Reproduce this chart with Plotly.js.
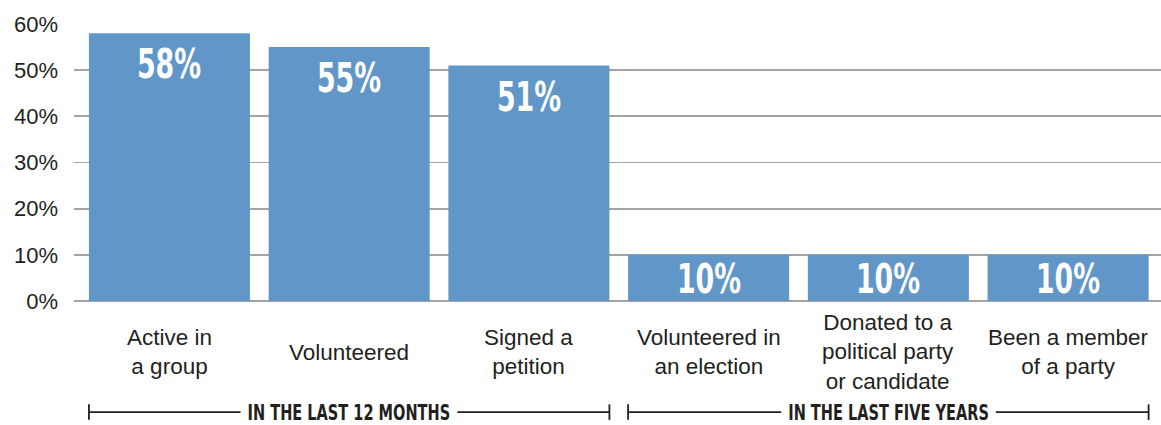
<!DOCTYPE html>
<html>
<head>
<meta charset="utf-8">
<script src="https://cdn.plot.ly/plotly-3.0.1.min.js"></script>
<style>html,body{margin:0;padding:0;background:#fff;}#chart{width:1161px;height:425px;}</style>
</head>
<body>
<div id="chart"></div>
<script>
const categories = ["Active in<br>a group", "Volunteered", "Signed a<br>petition", "Volunteered in<br>an election", "Donated to a<br>political party<br>or candidate", "Been a member<br>of a party"];
const values = [58, 55, 51, 10, 10, 10];
const valueLabels = ["58%", "55%", "51%", "10%", "10%", "10%"];
const tickValues = [0, 10, 20, 30, 40, 50, 60];
const tickLabels = ["0%", "10%", "20%", "30%", "40%", "50%", "60%"];
const groups = [
  {label: "IN THE LAST 12 MONTHS", first: 0, last: 2},
  {label: "IN THE LAST FIVE YEARS", first: 3, last: 5}
];

const idx = categories.map((_, i) => i);
const barGap = 0.104;
const half = (1 - barGap) / 2;
const textColor = "#231f20";
const condensed = "'DejaVu Sans Condensed', 'Liberation Sans Narrow', sans-serif";
const plain = "'Liberation Sans', Arial, sans-serif";

const annotations = [];
const squeeze = []; // [annotation index, horizontal scale]
values.forEach((v, i) => {
  const short = v < 20;
  squeeze.push([annotations.length, 0.745]);
  annotations.push({x: i, y: short ? v / 2 : v, xref: "x", yref: "y", text: valueLabels[i], showarrow: false,
    yanchor: "middle", yshift: short ? -1 : -31,
    font: {family: condensed, size: 40, color: "#ffffff", weight: "bold"}});
  annotations.push({x: i, y: -0.185, xref: "x", yref: "paper", text: categories[i], showarrow: false,
    yanchor: "middle", align: "center",
    font: {family: plain, size: 22.5, color: textColor}});
});
const shapes = [];
groups.forEach(g => {
  const x0 = g.first - half, x1 = g.last + half;
  const yL = -0.401;
  const ln = {color: textColor, width: 1.8};
  shapes.push({type: "line", xref: "x", yref: "paper", x0: x0, x1: x1, y0: yL, y1: yL, line: ln});
  shapes.push({type: "line", xref: "x", yref: "paper", x0: x0, x1: x0, y0: yL - 0.028, y1: yL + 0.028, line: ln});
  shapes.push({type: "line", xref: "x", yref: "paper", x0: x1, x1: x1, y0: yL - 0.028, y1: yL + 0.028, line: ln});
  squeeze.push([annotations.length, 0.735]);
  annotations.push({x: (g.first + g.last) / 2, y: yL, xref: "x", yref: "paper", text: g.label, showarrow: false,
    yanchor: "middle", bgcolor: "#ffffff", borderpad: 9,
    font: {family: condensed, size: 22, color: textColor, weight: "bold"}});
});

const data = [{
  type: "bar", x: idx, y: values, marker: {color: "#6196c9"}, hoverinfo: "none"
}];
const layout = {
  width: 1161, height: 425,
  margin: {l: 74, r: 0, t: 24, b: 124},
  paper_bgcolor: "#ffffff", plot_bgcolor: "#ffffff",
  bargap: barGap, showlegend: false,
  xaxis: {range: [-0.531, 5.517], showticklabels: false, showgrid: false, zeroline: false, ticks: "", fixedrange: true},
  yaxis: {range: [0, 60], tickvals: tickValues, ticktext: tickLabels, showgrid: true, gridcolor: "#a3a3a3", gridwidth: 1.7,
    zeroline: true, zerolinecolor: "#a3a3a3", zerolinewidth: 1.7, ticks: "", ticklabelstandoff: 15,
    tickfont: {family: plain, size: 22, color: textColor}, fixedrange: true},
  annotations: annotations, shapes: shapes
};
Plotly.newPlot("chart", data, layout, {displayModeBar: false, staticPlot: true}).then(() => {
  const nodes = document.querySelectorAll("#chart g.annotation");
  squeeze.forEach(([k, s]) => {
    const n = nodes[k];
    if (!n) return;
    n.querySelectorAll("text, rect.bg").forEach(el => {
      el.style.transformBox = "fill-box";
      el.style.transformOrigin = "center";
      el.style.transform = "scaleX(" + s + ")";
    });
  });
});
</script>
</body>
</html>
